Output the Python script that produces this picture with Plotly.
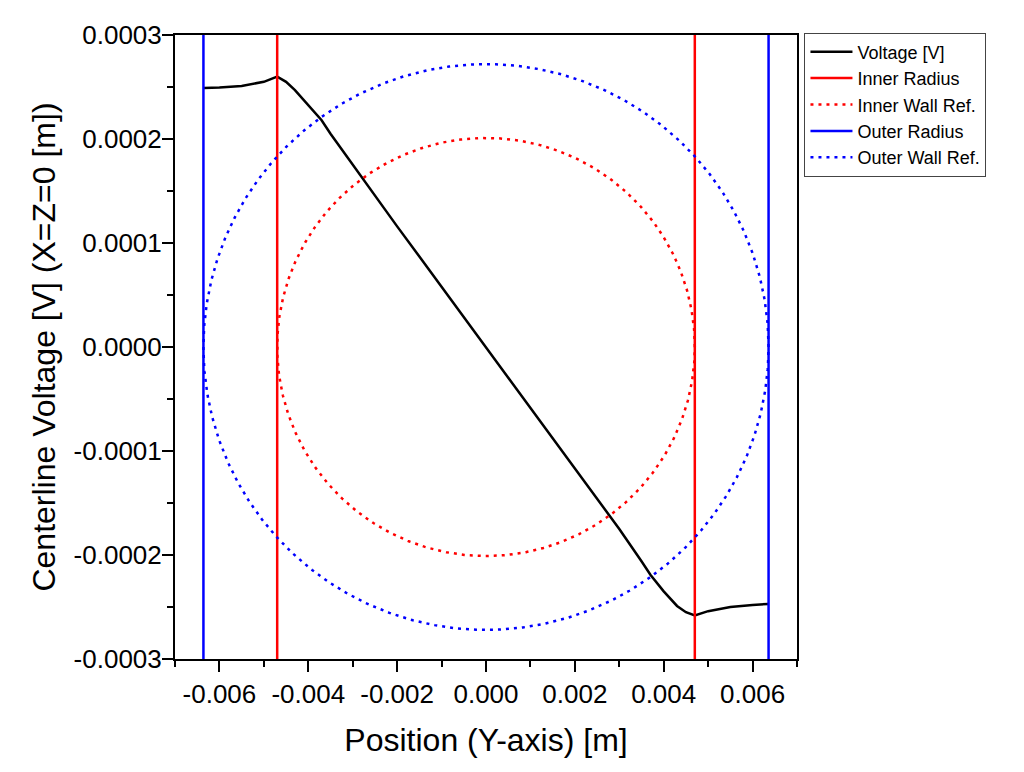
import numpy as np
import plotly.graph_objects as go

# Voltage data along centerline
pos_y = [-0.00635, -0.0060, -0.0055, -0.0050, -0.0047, -0.0045, -0.0043, -0.0040, -0.0037,
         -0.0035, -0.0030, -0.0025, -0.0020, -0.0015, -0.0010, -0.0005, 0.0,
         0.0005, 0.0010, 0.0015, 0.0020, 0.0025, 0.0030, 0.0035, 0.0037, 0.0040,
         0.0043, 0.0045, 0.0047, 0.0050, 0.0055, 0.0060, 0.00635]
voltage = [0.000249, 0.0002495, 0.000251, 0.000255, 0.000260, 0.000255, 0.000247, 0.000233, 0.000218,
           0.000205, 0.000175, 0.000145, 0.000116, 0.000087, 0.000058, 0.000029, 0.0,
           -0.000029, -0.000058, -0.000087, -0.000116, -0.000145, -0.000175, -0.000206, -0.000219, -0.000235,
           -0.000249, -0.000255, -0.000258, -0.000254, -0.000250, -0.000248, -0.000247]

inner_radius = 0.0047
outer_radius = 0.00636
inner_wall_ref = 0.000201
outer_wall_ref = 0.000272

y_range = [-0.0003, 0.0003]
x_range = [-0.007, 0.007]

x_tickvals = [-0.006, -0.004, -0.002, 0.0, 0.002, 0.004, 0.006]
x_ticktext = ["-0.006", "-0.004", "-0.002", "0.000", "0.002", "0.004", "0.006"]
y_tickvals = [-0.0003, -0.0002, -0.0001, 0.0, 0.0001, 0.0002, 0.0003]
y_ticktext = ["-0.0003", "-0.0002", "-0.0001", "0.0000", "0.0001", "0.0002", "0.0003"]

FONT = "Arial, Liberation Sans, sans-serif"
dot = "3px,5px"

t = np.linspace(0, 2 * np.pi, 721)

fig = go.Figure()
fig.add_trace(go.Scatter(x=pos_y, y=voltage, mode="lines", name="Voltage [V]",
                         line=dict(color="black", width=2.5), legendgroup="a"))
fig.add_trace(go.Scatter(x=[-inner_radius, -inner_radius, None, inner_radius, inner_radius],
                         y=[y_range[0], y_range[1], None, y_range[0], y_range[1]],
                         mode="lines", name="Inner Radius", line=dict(color="red", width=2.5),
                         legendgroup="b"))
fig.add_trace(go.Scatter(x=inner_radius * np.cos(t), y=inner_wall_ref * np.sin(t), mode="lines",
                         name="Inner Wall Ref.", line=dict(color="red", width=2.5, dash=dot),
                         legendgroup="c"))
fig.add_trace(go.Scatter(x=[-outer_radius, -outer_radius, None, outer_radius, outer_radius],
                         y=[y_range[0], y_range[1], None, y_range[0], y_range[1]],
                         mode="lines", name="Outer Radius", line=dict(color="blue", width=2.5),
                         legendgroup="d"))
fig.add_trace(go.Scatter(x=outer_radius * np.cos(t), y=outer_wall_ref * np.sin(t), mode="lines",
                         name="Outer Wall Ref.", line=dict(color="blue", width=2.5, dash=dot),
                         legendgroup="e"))

fig.update_layout(
    width=1016, height=764,
    margin=dict(l=167, r=227, t=27, b=113),
    paper_bgcolor="white", plot_bgcolor="white",
    font=dict(family=FONT, color="black"),
    legend=dict(x=1.012, y=1.004, xanchor="left", yanchor="top",
                bordercolor="#444", borderwidth=1, font=dict(size=18, family=FONT),
                tracegroupgap=0, traceorder="grouped", itemwidth=42),
    xaxis=dict(range=x_range, showgrid=False, zeroline=False, showline=True, linecolor="black",
               linewidth=2, mirror=True, ticks="outside", ticklen=11, tickwidth=2, tickcolor="black",
               tickvals=x_tickvals, ticktext=x_ticktext, tickfont=dict(size=26),
               minor=dict(ticks="outside", ticklen=6, tickwidth=2, tickcolor="black", dtick=0.001,
                          tick0=0),
               title=dict(text="Position (Y-axis) [m]", font=dict(size=32), standoff=20)),
    yaxis=dict(range=y_range, showgrid=False, zeroline=False, showline=True, linecolor="black",
               linewidth=2, mirror=True, ticks="outside", ticklen=11, tickwidth=2, tickcolor="black",
               tickvals=y_tickvals, ticktext=y_ticktext, tickfont=dict(size=26),
               ticklabelstandoff=-5,
               minor=dict(ticks="outside", ticklen=6, tickwidth=2, tickcolor="black", dtick=0.00005,
                          tick0=0),
               title=dict(text="Centerline Voltage [V] (X=Z=0 [m])", font=dict(size=32), standoff=8)),
)

fig.write_html("out.html")
